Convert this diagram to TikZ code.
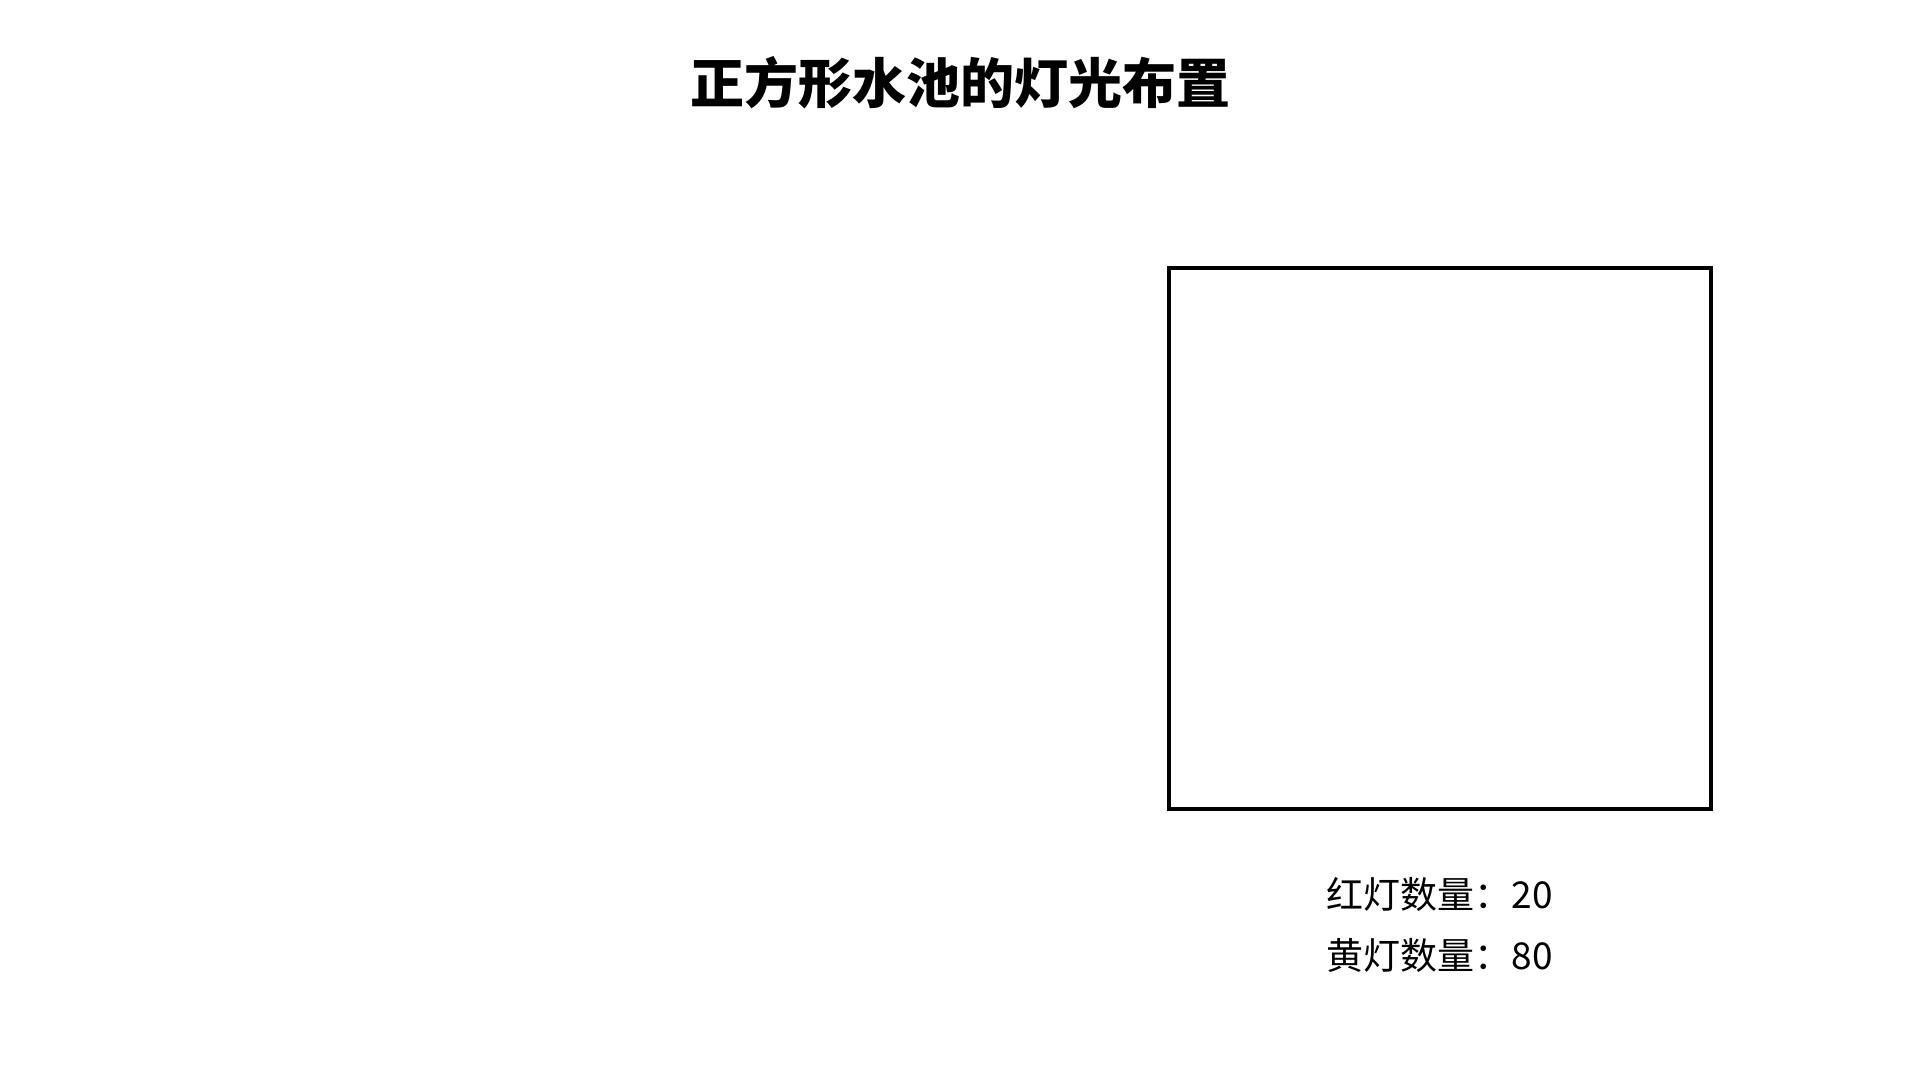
\documentclass[tikz,border=0pt]{standalone}
\usepackage{fontspec}
\setmainfont{Noto Sans CJK SC}
\begin{document}
\begin{tikzpicture}[x=1pt,y=-1pt,
  titlestyle/.style={font=\fontsize{54}{64}\selectfont\bfseries, inner sep=0pt},
  countstyle/.style={font=\fontsize{37}{44}\selectfont, inner sep=0pt},
  poolstyle/.style={draw=black, line width=3.5pt}]
\useasboundingbox (0,0) rectangle (1920,1080);
\node[titlestyle] (title) at (960,83) {正方形水池的灯光布置};
\draw[poolstyle] (1169,268) rectangle (1711,809);
\coordinate (pool) at (1440,538);
\node[countstyle] (red) at (1440,894) {红灯数量：20};
\node[countstyle] (yellow) at (1440,955) {黄灯数量：80};
\end{tikzpicture}
\end{document}
